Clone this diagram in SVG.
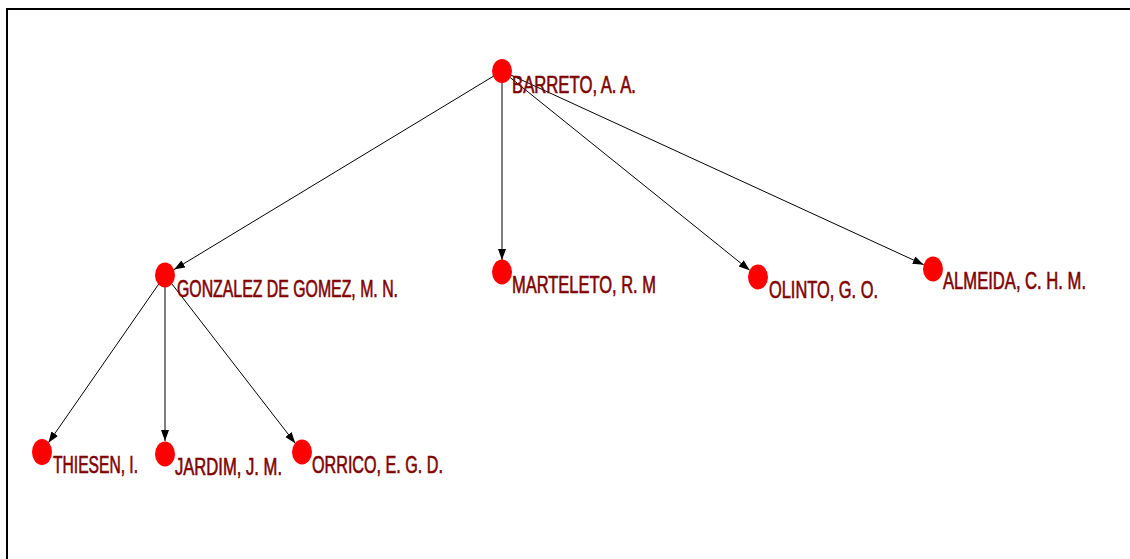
<svg xmlns="http://www.w3.org/2000/svg" width="1130" height="559" viewBox="0 0 1130 559">
  <defs>
    <marker id="arrow" markerUnits="userSpaceOnUse" markerWidth="12" markerHeight="10" refX="11" refY="4" orient="auto">
      <path d="M0,0 L11,4 L0,8 Z" fill="#000"/>
    </marker>
    <style>
      .frame { fill: none; stroke: #000; stroke-width: 2; }
      .edge { stroke: #000; stroke-width: 1; fill: none; marker-end: url(#arrow); }
      .dot { fill: #ff0000; }
      .lbl { font-family: "Liberation Sans Narrow", "Liberation Sans", Arial, sans-serif; font-size: 23px; fill: #800000; stroke: #800000; stroke-width: 0.6; }
    </style>
  </defs>

  <rect width="1130" height="559" fill="#fff"/>
  <path class="frame" d="M7,559 V9 H1130"/>

  <!-- connectors -->
  <g id="edges">
    <line class="edge" x1="502" y1="71" x2="174" y2="269.6"/>
    <line class="edge" x1="502" y1="71" x2="502" y2="260"/>
    <line class="edge" x1="502" y1="71" x2="749.7" y2="270.3"/>
    <line class="edge" x1="502" y1="71" x2="923.7" y2="264.7"/>
    <line class="edge" x1="165" y1="275" x2="48.4" y2="442.8"/>
    <line class="edge" x1="165" y1="275" x2="165" y2="441"/>
    <line class="edge" x1="165" y1="275" x2="295.2" y2="443.2"/>
  </g>

  <!-- nodes -->
  <g id="barreto">
    <ellipse class="dot" cx="502" cy="71" rx="10" ry="12"/>
    <text class="lbl" x="512" y="93" textLength="124" lengthAdjust="spacingAndGlyphs">BARRETO, A. A.</text>
  </g>
  <g id="gonzalez">
    <ellipse class="dot" cx="165" cy="275" rx="10" ry="12.5"/>
    <text class="lbl" x="177" y="297" textLength="221" lengthAdjust="spacingAndGlyphs">GONZALEZ DE GOMEZ, M. N.</text>
  </g>
  <g id="marteleto">
    <ellipse class="dot" cx="502" cy="272" rx="10" ry="12.5"/>
    <text class="lbl" x="512" y="293" textLength="144" lengthAdjust="spacingAndGlyphs">MARTELETO, R. M</text>
  </g>
  <g id="olinto">
    <ellipse class="dot" cx="758" cy="277" rx="10" ry="12.5"/>
    <text class="lbl" x="769" y="298" textLength="109" lengthAdjust="spacingAndGlyphs">OLINTO, G. O.</text>
  </g>
  <g id="almeida">
    <ellipse class="dot" cx="933" cy="269" rx="10" ry="12.5"/>
    <text class="lbl" x="943" y="289" textLength="143" lengthAdjust="spacingAndGlyphs">ALMEIDA, C. H. M.</text>
  </g>
  <g id="thiesen">
    <ellipse class="dot" cx="42" cy="452" rx="10" ry="13"/>
    <text class="lbl" x="53" y="473" textLength="85" lengthAdjust="spacingAndGlyphs">THIESEN, I.</text>
  </g>
  <g id="jardim">
    <ellipse class="dot" cx="165" cy="454" rx="10" ry="12.5"/>
    <text class="lbl" x="175" y="475" textLength="107" lengthAdjust="spacingAndGlyphs">JARDIM, J. M.</text>
  </g>
  <g id="orrico">
    <ellipse class="dot" cx="302" cy="452" rx="10" ry="12.5"/>
    <text class="lbl" x="312" y="473" textLength="131" lengthAdjust="spacingAndGlyphs">ORRICO, E. G. D.</text>
  </g>
</svg>
